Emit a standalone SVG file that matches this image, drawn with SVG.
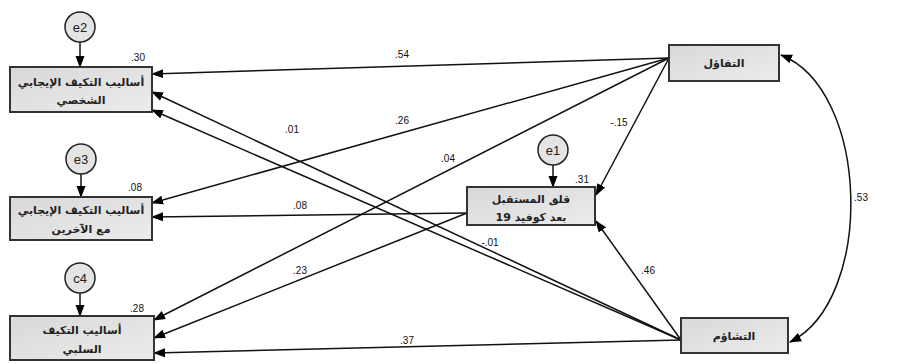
<svg xmlns="http://www.w3.org/2000/svg" width="899" height="364" viewBox="0 0 899 364">
<defs>
<linearGradient id="g" x1="0" y1="0" x2="1" y2="1">
<stop offset="0" stop-color="#d8d8d8"/>
<stop offset="1" stop-color="#ececec"/>
</linearGradient>
<marker id="ah" markerUnits="userSpaceOnUse" markerWidth="12" markerHeight="10" refX="11" refY="4.5" orient="auto-start-reverse" viewBox="0 0 12 9">
<path d="M0,0 L12,4.5 L0,9 z" fill="#000"/>
</marker>
</defs>
<style>
.box{fill:url(#g);stroke:#333;stroke-width:2}
.err{fill:#e4e4e4;stroke:#222;stroke-width:1.5}
.t{font-family:"DejaVu Sans",sans-serif;font-size:11px;font-weight:bold;fill:#222;text-anchor:middle}
.e{font-family:"Liberation Sans",Arial,sans-serif;font-size:13px;fill:#222;text-anchor:middle}
.n{font-family:"Liberation Sans",Arial,sans-serif;font-size:10px;fill:#111;text-anchor:middle}
.c{stroke:#111;stroke-width:1.5;fill:none;marker-end:url(#ah)}
</style>
<rect width="899" height="364" fill="#fff"/>
<g id="connectors">
<line class="c" x1="669" y1="58" x2="152" y2="74"/>
<line class="c" x1="669" y1="58" x2="152" y2="203"/>
<line class="c" x1="669" y1="58" x2="154" y2="320"/>
<line class="c" x1="669" y1="58" x2="596" y2="195"/>
<line class="c" x1="681" y1="340" x2="152" y2="92"/>
<line class="c" x1="681" y1="340" x2="152" y2="110"/>
<line class="c" x1="681" y1="340" x2="596" y2="221"/>
<line class="c" x1="681" y1="340" x2="154" y2="353"/>
<line class="c" x1="467" y1="213" x2="152" y2="217"/>
<line class="c" x1="467" y1="213" x2="154" y2="338"/>
<line class="c" x1="80" y1="42" x2="80" y2="67"/>
<line class="c" x1="81" y1="174" x2="81" y2="197"/>
<line class="c" x1="80" y1="293" x2="80" y2="316"/>
<line class="c" x1="553" y1="165" x2="553" y2="187"/>
<path class="c" d="M781,55 C870,90 875,300 790,342" marker-start="url(#ah)"/>
</g>
<g id="labels">
<text class="n" x="402" y="58">.54</text>
<text class="n" x="402" y="124">.26</text>
<text class="n" x="292" y="133">.01</text>
<text class="n" x="448" y="162">.04</text>
<text class="n" x="619" y="126">-.15</text>
<text class="n" x="300" y="209">.08</text>
<text class="n" x="490" y="246">-.01</text>
<text class="n" x="300" y="274">.23</text>
<text class="n" x="648" y="274">.46</text>
<text class="n" x="407" y="344">.37</text>
<text class="n" x="861" y="201">.53</text>
<text class="n" x="138" y="61">.30</text>
<text class="n" x="135" y="191">.08</text>
<text class="n" x="137" y="312">.28</text>
<text class="n" x="582" y="183">.31</text>
</g>
<g id="e2"><circle class="err" cx="80" cy="27" r="15"/><text class="e" x="80" y="32">e2</text></g>
<g id="e3"><circle class="err" cx="81" cy="159" r="15"/><text class="e" x="81" y="164">e3</text></g>
<g id="e4"><circle class="err" cx="80" cy="278" r="15"/><text class="e" x="80" y="283">c4</text></g>
<g id="e1"><circle class="err" cx="553" cy="150" r="15"/><text class="e" x="553" y="155">e1</text></g>
<g id="box1"><rect class="box" x="10" y="67" width="142" height="45"/>
<text class="t" x="81" y="86">أساليب التكيف الإيجابي</text><text class="t" x="81" y="104">الشخصي</text></g>
<g id="box2"><rect class="box" x="10" y="197" width="142" height="43"/>
<text class="t" x="81" y="214">أساليب التكيف الإيجابي</text><text class="t" x="81" y="233">مع الآخرين</text></g>
<g id="box3"><rect class="box" x="10" y="316" width="144" height="44"/>
<text class="t" x="82" y="334">أساليب التكيف</text><text class="t" x="82" y="353">السلبي</text></g>
<g id="center"><rect class="box" x="467" y="187" width="128" height="38"/>
<text class="t" x="531" y="203">قلق المستقبل</text><text class="t" x="531" y="221">بعد كوفيد 19</text></g>
<g id="optimism"><rect class="box" x="669" y="45" width="110" height="36"/>
<text class="t" x="724" y="67">التفاؤل</text></g>
<g id="pessimism"><rect class="box" x="681" y="318" width="107" height="35"/>
<text class="t" x="734" y="340">التشاؤم</text></g>
</svg>
